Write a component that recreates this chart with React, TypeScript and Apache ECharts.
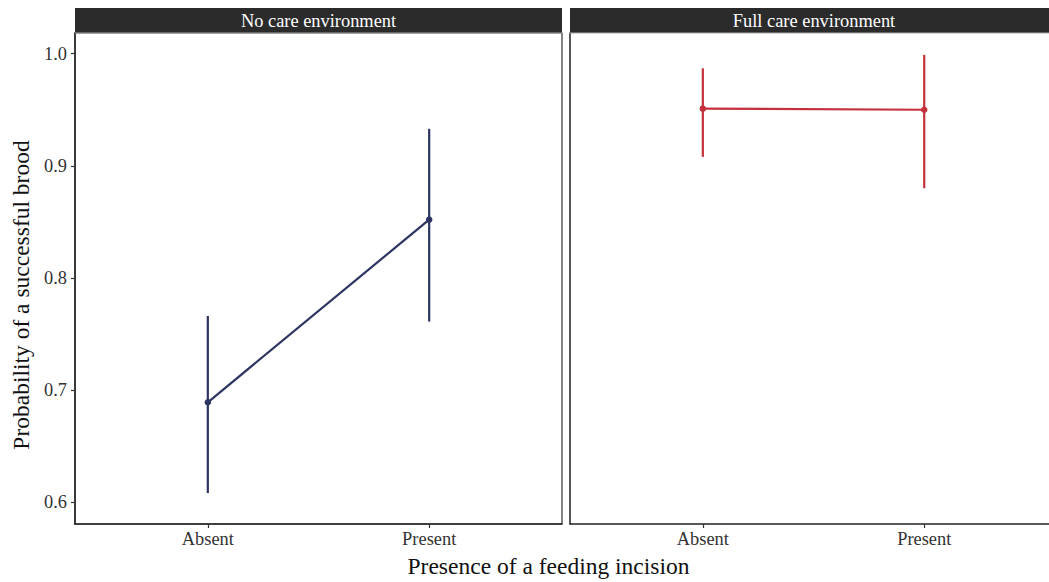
import React, { useEffect, useRef } from "react";
import * as echarts from "echarts";

const categories = ["Absent", "Present"];
const panels = ["No care environment", "Full care environment"];
const noCareMean = [0.689, 0.852];
const noCareLow = [0.608, 0.761];
const noCareHigh = [0.766, 0.933];
const fullCareMean = [0.951, 0.95];
const fullCareLow = [0.908, 0.88];
const fullCareHigh = [0.987, 0.999];
const yTicks = [0.6, 0.7, 0.8, 0.9, 1.0];
const colors = ["#2d3461", "#c4303b"];

const FONT = "'Liberation Serif', 'DejaVu Serif', serif";

export default function App() {
  const ref = useRef<HTMLDivElement>(null);
  useEffect(() => {
    if (!ref.current) return;
    const chart = echarts.init(ref.current, undefined, { renderer: "svg" });
    const xPos = categories.map((_, i) => i + 1);
    // second panel is cut off at the right edge of the picture
    const grids = [
      { left: 75, top: 33, width: 487, height: 491, xMax: 2.6, border: true },
      { left: 570, top: 33, width: 479, height: 491, xMax: 2.5636, border: false },
    ];
    const means = [noCareMean, fullCareMean];
    const lows = [noCareLow, fullCareLow];
    const highs = [noCareHigh, fullCareHigh];

    const xAxes = grids.map((g, gi) => ({
      type: "value",
      gridIndex: gi,
      min: 0.4,
      max: g.xMax,
      splitLine: { show: false },
      axisLine: { show: true, lineStyle: { color: "#222", width: 1.5 } },
      axisTick: { show: true, length: 4, customValues: xPos, lineStyle: { color: "#333", width: 1.2 } },
      axisLabel: {
        customValues: xPos,
        formatter: (v: number) => categories[Math.round(v) - 1] ?? "",
        fontFamily: FONT,
        fontSize: 18.4,
        color: "#333",
        margin: 6,
      },
    }));
    const yAxes = grids.map((_, gi) => ({
      type: "value",
      gridIndex: gi,
      min: 0.5804,
      max: 1.0185,
      splitLine: { show: false },
      axisLine: { show: true, lineStyle: { color: "#222", width: 1.5 } },
      axisTick: { show: gi === 0, length: 4, customValues: yTicks, lineStyle: { color: "#333", width: 1.2 } },
      axisLabel: {
        show: gi === 0,
        customValues: yTicks,
        formatter: (v: number) => v.toFixed(1),
        fontFamily: FONT,
        fontSize: 18.4,
        color: "#333",
        margin: 8,
      },
    }));

    const series: any[] = [];
    grids.forEach((_, gi) => {
      const color = colors[gi];
      series.push({
        type: "custom",
        xAxisIndex: gi,
        yAxisIndex: gi,
        encode: { x: 0, y: [1, 2] },
        data: xPos.map((x, i) => [x, lows[gi][i], highs[gi][i]]),
        renderItem: (params: any, api: any) => {
          const x = api.value(0);
          const p1 = api.coord([x, api.value(1)]);
          const p2 = api.coord([x, api.value(2)]);
          return {
            type: "line",
            shape: { x1: p1[0], y1: p1[1], x2: p2[0], y2: p2[1] },
            style: { stroke: color, lineWidth: 2.2 },
          };
        },
        z: 2,
      });
      series.push({
        type: "line",
        xAxisIndex: gi,
        yAxisIndex: gi,
        data: xPos.map((x, i) => [x, means[gi][i]]),
        symbol: "circle",
        symbolSize: 6.5,
        itemStyle: { color },
        lineStyle: { color, width: 2.2 },
        z: 3,
      });
    });

    const graphic: any[] = [];
    grids.forEach((g, gi) => {
      graphic.push({
        type: "rect",
        shape: { x: g.left, y: 8, width: g.width + (g.border ? 0 : 20), height: 25 },
        style: { fill: "#2b2b2b" },
        z: 10,
      });
      graphic.push({
        type: "line",
        shape: { x1: g.left, y1: 33, x2: g.left + g.width + (g.border ? 0 : 20), y2: 33 },
        style: { stroke: "#aaaaaa", lineWidth: 1 },
        z: 11,
      });
      graphic.push({
        type: "text",
        x: gi === 0 ? g.left + g.width / 2 : g.left + 244,
        y: 20.5,
        style: {
          text: panels[gi],
          fill: "#ffffff",
          font: `18.4px ${FONT}`,
          align: "center",
          verticalAlign: "middle",
        },
        z: 12,
      });
    });
    graphic.push({
      type: "text",
      x: 548.5,
      y: 566,
      style: {
        text: "Presence of a feeding incision",
        fill: "#111",
        font: `23.5px ${FONT}`,
        align: "center",
        verticalAlign: "middle",
      },
    });
    graphic.push({
      type: "text",
      x: 21,
      y: 295,
      rotation: Math.PI / 2,
      style: {
        text: "Probability of a successful brood",
        fill: "#111",
        font: `23.5px ${FONT}`,
        align: "center",
        verticalAlign: "middle",
      },
    });

    chart.setOption({
      animation: false,
      backgroundColor: "#ffffff",
      grid: grids.map((g) => ({
        left: g.left,
        top: g.top,
        width: g.width,
        height: g.height,
        show: g.border,
        borderColor: "#333",
        borderWidth: 1.2,
        backgroundColor: "transparent",
      })),
      xAxis: xAxes,
      yAxis: yAxes,
      series,
      graphic,
    });
    return () => chart.dispose();
  }, []);
  return (
    <div
      ref={ref}
      style={{ position: "fixed", left: 0, top: 0, width: 1049, height: 582, background: "#fff" }}
    />
  );
}
